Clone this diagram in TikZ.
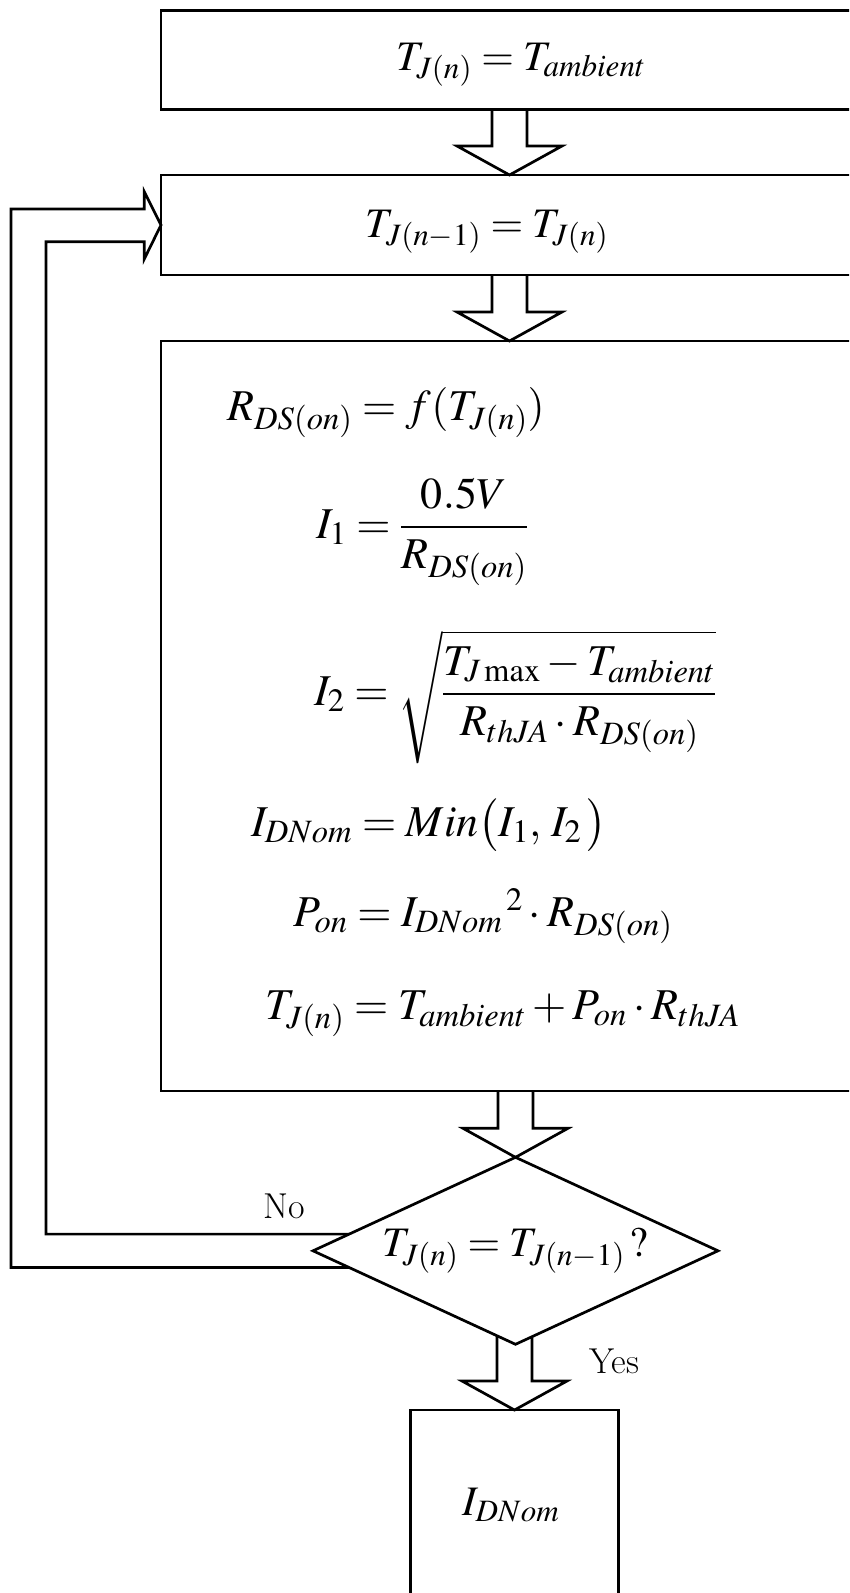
\documentclass[tikz,border=0pt]{standalone}
\usepackage{amsmath}
\usepackage{mathptmx}
\usetikzlibrary{shapes.geometric}

% hollow block arrow, drawn upwards from its tip
\newcommand{\flowarrow}[2]{%
  \draw[flow] (#1) ++(-17.5,-29-#2) -- ++(0,#2) -- ++(-35,0) -- (#1) -- ++(52.5,-29) -- ++(-35,0) -- ++(0,-#2);}

\begin{document}
\begin{tikzpicture}[
  x=1pt,y=-1pt,
  font=\fontsize{42}{50}\selectfont,
  box/.style={draw,line width=2.7pt,minimum width=697pt,inner sep=0pt,outer sep=0pt},
  decision/.style={draw,diamond,line width=2.7pt,aspect=2.17,minimum width=405pt,minimum height=187pt,inner sep=0pt,outer sep=0pt},
  eq/.style={anchor=base west,inner sep=0pt,font=\fontsize{44}{52}\selectfont},
  flow/.style={line width=2.7pt,line join=miter},
  tag/.style={font=\fontsize{36}{42}\selectfont,inner sep=0pt},
]
  \useasboundingbox (0,0) rectangle (849,1593);
  \clip (0,0) rectangle (849,1593);

  \node[box,minimum height=98.6pt] (init) at (509.5,60) {};
  \node[anchor=base,inner sep=0pt] (initT) at (521,70) {$T_{J(n)} = T_{ambient}$};

  \node[box,minimum height=100pt] (upd) at (509.5,225) {};
  \node[anchor=base,inner sep=0pt] (updT) at (487,237) {$T_{J(n-1)} = T_{J(n)}$};

  \node[box,minimum height=750pt] (model) at (509.5,716) {};
  \node[eq] (eqR) at (227,420) {$R_{DS(on)} = f(T_{J(n)})$};
  \node[eq] (eqIa) at (316,538) {$I_1 = \dfrac{0.5V}{R_{DS(on)}}$};
  \node[eq] (eqIb) at (314,705) {$I_2 = \sqrt{\dfrac{T_{J\max} - T_{ambient}}{R_{thJA}\cdot R_{DS(on)}}}$};
  \node[eq] (eqID) at (251,836) {$I_{DNom} = Min\bigl(I_1,\, I_2\,\bigr)$};
  \node[eq] (eqP) at (293,926) {$P_{on} = {I_{DNom}}^{\,2}\cdot R_{DS(on)}$};
  \node[eq] (eqT) at (265,1019) {$T_{J(n)} = T_{ambient} + P_{on}\cdot R_{thJA}$};

  \node[decision] (dec) at (515.5,1250.8) {\makebox[0pt]{$T_{J(n)} = T_{J(n-1)}\,?$}};

  \node[box,minimum width=208pt,minimum height=260pt] (res) at (514.5,1540) {};
  \node[inner sep=0pt] (resT) at (511,1505) {$I_{DNom}$};

  \flowarrow{upd.north}{36.7}
  \flowarrow{model.north}{37}
  \flowarrow{dec.north}{37.3}
  \flowarrow{res.north}{44.8}

  % No branch back to the update box
  \coordinate (loopout) at (11,209);
  \coordinate (loopin) at (46,241.7);
  \path (dec.west) ++(36.2,16.7) coordinate (noout);
  \path (dec.west) ++(36.2,-16.7) coordinate (noin);
  \draw[flow] (noout) -| (loopout) -- ++(133.3,0) -- ++(0,-17.3) -- (upd.west) -- ++(-16.7,34) -- ++(0,-17.3) -| (loopin) |- (noin);

  \node[tag] (no) at (284,1206) {No};
  \node[tag] (yes) at (614.5,1361) {Yes};
\end{tikzpicture}
\end{document}
